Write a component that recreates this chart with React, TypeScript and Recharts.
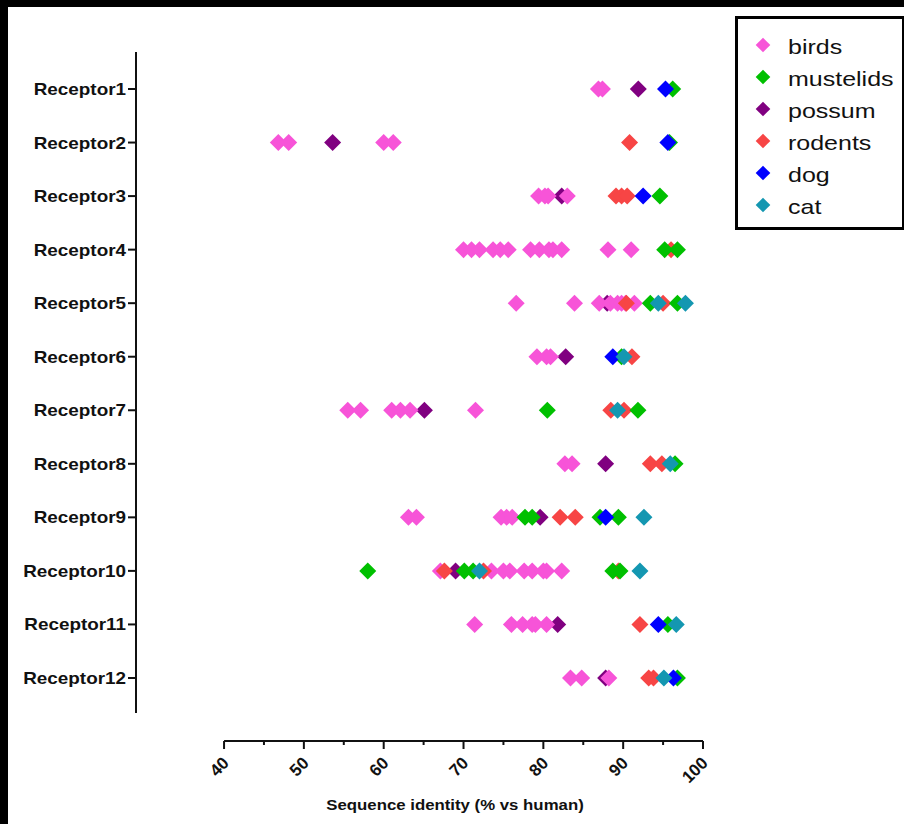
import React from "react";
import {
  ScatterChart,
  Scatter,
  XAxis,
  YAxis,
  ReferenceLine,
  Label,
} from "recharts";

const FONT = '"Liberation Sans", Arial, Helvetica, sans-serif';

const RECEPTORS = [
  "Receptor1", "Receptor2", "Receptor3", "Receptor4", "Receptor5", "Receptor6",
  "Receptor7", "Receptor8", "Receptor9", "Receptor10", "Receptor11", "Receptor12",
];

// identity values (% vs human), one list per receptor
const BIRDS = [
  [86.9, 87.4],
  [46.8, 48.1, 60.0, 61.2],
  [79.4, 80.2, 80.6, 83.0],
  [70.0, 71.0, 72.0, 73.7, 74.6, 75.6, 78.4, 79.5, 80.7, 81.2, 82.3, 88.1, 91.0],
  [76.6, 83.9, 87.0, 88.4, 89.3, 89.8, 90.3, 91.4],
  [79.2, 80.4, 80.9],
  [55.5, 57.1, 61.0, 62.1, 63.3, 71.5],
  [82.7, 83.6],
  [63.1, 64.1, 74.7, 75.4, 76.1],
  [67.1, 73.5, 75.0, 75.8, 77.6, 78.6, 80.0, 80.4, 82.3],
  [71.4, 76.0, 77.4, 78.6, 79.0, 80.4],
  [83.4, 84.8, 88.2],
];
const MUSTELIDS = [
  [96.2], [95.8], [94.6], [95.2, 96.8], [93.4, 96.8], [89.8],
  [80.5, 91.85], [96.5], [77.7, 78.6, 87.1, 89.4], [58.0, 70.1, 71.2, 88.7, 89.6],
  [95.6], [96.8],
];
const POSSUM = [
  [91.9], [53.6], [82.3], [], [88.0], [82.8], [65.1], [87.8], [79.6], [69.0], [81.8], [87.8],
];
const RODENTS = [
  [], [90.8], [89.1, 89.8, 90.5], [96.0], [90.4, 95.0], [91.1], [88.45, 90.1],
  [93.4, 94.85], [82.1, 84.0], [67.6, 72.5, 89.4], [92.1], [93.2, 93.8],
];
const DOG = [
  [95.3], [95.6], [92.5], [], [], [88.7], [], [], [87.8], [], [94.4], [96.3],
];
const CAT = [
  [], [], [], [], [94.4, 97.8], [90.1], [89.3], [95.9], [92.6], [72.0, 92.1], [96.65], [95.1],
];

const X_TICKS = [40, 45, 50, 55, 60, 65, 70, 75, 80, 85, 90, 95, 100];
const Y_TICKS = [1, 2, 3, 4, 5, 6, 7, 8, 9, 10, 11, 12];

const X_MIN = 28.97;
const Y_TOP = 0.309;
const Y_BOTTOM = 13.177;
const Y_AXIS_END = 12.654;

const toPoints = (rows: number[][]) =>
  rows.flatMap((vals, i) => vals.map((v) => ({ x: v, y: i + 1 })));

// drawing order (back to front) differs from legend order
const SERIES = [
  { name: "possum", color: "#800080", rows: POSSUM },
  { name: "birds", color: "#F754D8", rows: BIRDS },
  { name: "rodents", color: "#F74545", rows: RODENTS },
  { name: "mustelids", color: "#00C000", rows: MUSTELIDS },
  { name: "dog", color: "#0000FF", rows: DOG },
  { name: "cat", color: "#1497B1", rows: CAT },
];
const LEGEND_ORDER = ["birds", "mustelids", "possum", "rodents", "dog", "cat"];

const diamondPath = (cx: number, cy: number, r: number) =>
  `M${cx},${cy - r}L${cx + r},${cy}L${cx},${cy + r}L${cx - r},${cy}Z`;

const makeShape = (color: string) => (props: any) => {
  const { cx, cy } = props;
  if (cx == null || cy == null) return <g />;
  return <path d={diamondPath(cx, cy, 8.5)} fill={color} />;
};

function YTick(props: any) {
  const { x, y, payload } = props;
  return (
    <g transform={`translate(${x},${y})`}>
      <text
        transform="scale(1.18,1)"
        textAnchor="end"
        dy={6}
        fontFamily={FONT}
        fontWeight="bold"
        fontSize={16}
        fill="#111"
      >
        {RECEPTORS[payload.value - 1]}
      </text>
    </g>
  );
}

function XTick(props: any) {
  const { x, y, payload } = props;
  const major = payload.value % 10 === 0;
  return (
    <g>
      <line x1={x} y1={y} x2={x} y2={y + (major ? 8 : 4)} stroke="#111" strokeWidth={2} />
      {major && (
        <text
          transform={`translate(${x + 6},${y + 23}) rotate(-45)`}
          textAnchor="end"
          fontFamily={FONT}
          fontWeight="bold"
          fontSize={17}
          fill="#111"
        >
          {payload.value}
        </text>
      )}
    </g>
  );
}

function XTitle(props: any) {
  const vb = props.viewBox ?? { x: 128, y: 734, width: 567, height: 60 };
  return (
    <g transform={`translate(${vb.x + 319},${vb.y + 68.5})`}>
      <text
        transform="scale(1.2,1)"
        textAnchor="middle"
        fontFamily={FONT}
        fontWeight="bold"
        fontSize={14}
        fill="#111"
      >
        Sequence identity (% vs human)
      </text>
    </g>
  );
}

function SpeciesLegend() {
  return (
    <svg
      width={174}
      height={230}
      style={{ position: "absolute", left: 730, top: 10 }}
    >
      <rect x={6.5} y={7.5} width={167} height={211} fill="#fff" stroke="#000" strokeWidth={3} />
      {LEGEND_ORDER.map((name, i) => {
        const s = SERIES.find((d) => d.name === name)!;
        const cy = 35 + i * 32;
        return (
          <g key={name}>
            <path d={diamondPath(33, cy, 7.3)} fill={s.color} />
            <g transform={`translate(58,${cy + 8.5})`}>
              <text transform="scale(1.19,1)" fontFamily={FONT} fontSize={21} fill="#111">
                {name}
              </text>
            </g>
          </g>
        );
      })}
    </svg>
  );
}

export default function App() {
  return (
    <div
      style={{
        position: "fixed",
        left: 0,
        top: 0,
        width: 904,
        height: 824,
        background: "#000",
        overflow: "hidden",
      }}
    >
      <div
        style={{
          position: "absolute",
          left: 8,
          top: 7,
          width: 896,
          height: 817,
          background: "#fff",
        }}
      >
        <ScatterChart
          width={896}
          height={817}
          margin={{ top: 45, right: 201, bottom: 23, left: 8 }}
        >
          <XAxis
            type="number"
            dataKey="x"
            domain={[X_MIN, 100]}
            allowDataOverflow
            ticks={X_TICKS}
            interval={0}
            axisLine={false}
            tickLine={false}
            tickSize={0}
            tickMargin={0}
            height={60}
            tick={<XTick />}
          >
            <Label content={<XTitle />} />
          </XAxis>
          <YAxis
            type="number"
            dataKey="y"
            domain={[Y_TOP, Y_BOTTOM]}
            allowDataOverflow
            reversed
            ticks={Y_TICKS}
            interval={0}
            width={120}
            axisLine={false}
            tickSize={8}
            tickMargin={2}
            tickLine={{ stroke: "#111", strokeWidth: 2 }}
            tick={<YTick />}
          />
          <ReferenceLine
            segment={[
              { x: X_MIN, y: Y_TOP },
              { x: X_MIN, y: Y_AXIS_END },
            ]}
            stroke="#111"
            strokeWidth={2}
            ifOverflow="visible"
          />
          <ReferenceLine
            segment={[
              { x: 40, y: Y_BOTTOM },
              { x: 100, y: Y_BOTTOM },
            ]}
            stroke="#111"
            strokeWidth={2}
            ifOverflow="visible"
          />
          {SERIES.map((s) => (
            <Scatter
              key={s.name}
              name={s.name}
              data={toPoints(s.rows)}
              fill={s.color}
              shape={makeShape(s.color)}
              isAnimationActive={false}
            />
          ))}
        </ScatterChart>
      </div>
      <SpeciesLegend />
    </div>
  );
}
